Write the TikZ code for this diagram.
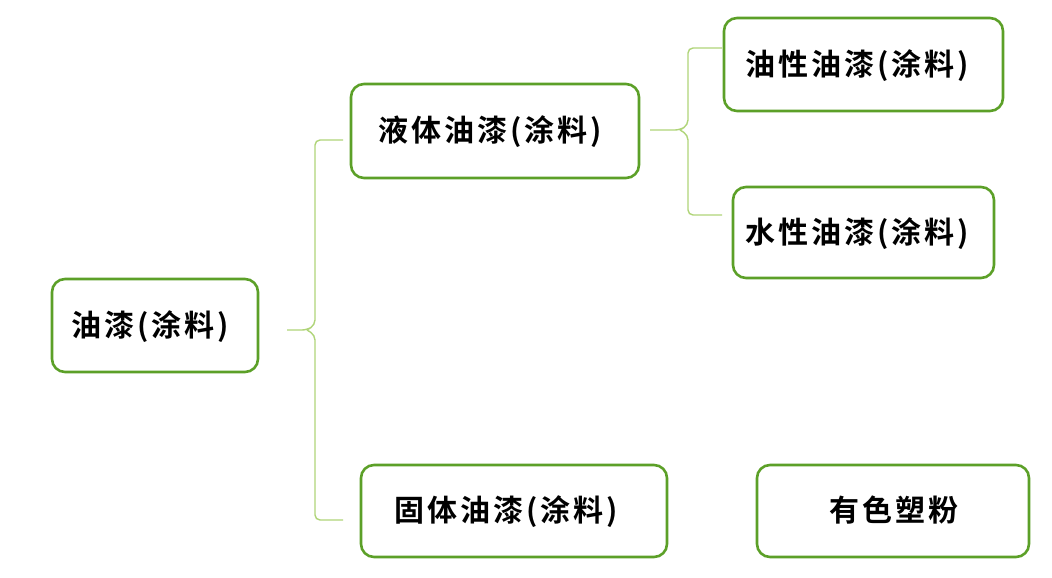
\documentclass[tikz,border=0pt]{standalone}
\usepackage{fontspec}
\newfontfamily\cjk{Noto Sans CJK SC}[BoldFont={* Bold},LetterSpace=10]
\begin{document}
\begin{tikzpicture}[x=1pt,y=-1pt,
  box/.style={draw=boxgreen,line width=2.6pt,rounded corners=13pt,fill=white},
  lbl/.style={font=\cjk\bfseries\fontsize{30}{34}\selectfont,inner sep=0pt},
  brace/.style={draw=linegreen,line width=1.4pt,rounded corners=5pt}]
\definecolor{boxgreen}{RGB}{92,160,40}
\definecolor{linegreen}{RGB}{175,212,120}
\useasboundingbox (0,0) rectangle (1052,578);
\draw[box] (52,279) rectangle (258,372);
\draw[box] (351,84) rectangle (639,178);
\draw[box] (724,18) rectangle (1003,111);
\draw[box] (733,187) rectangle (994,278);
\draw[box] (361,465) rectangle (667,557);
\draw[box] (757,465) rectangle (1029,557);
\node[lbl] (a) at (150,327) {油漆(涂料)};
\node[lbl] (b) at (490,132) {液体油漆(涂料)};
\node[lbl] (c) at (857,66) {油性油漆(涂料)};
\node[lbl] (d) at (857,234) {水性油漆(涂料)};
\node[lbl] (e) at (506,512) {固体油漆(涂料)};
\node[lbl] (f) at (894,510) {有色塑粉};
\coordinate (a1) at (287,330);
\coordinate (b1) at (343,140);
\coordinate (e1) at (343,520);
\coordinate (b2) at (650,130);
\coordinate (c1) at (722,48);
\coordinate (d1) at (722,215);
\draw[brace] (a1) -- (307,330) -- (315,325) -- (315,140) -- (b1);
\draw[brace] (307,330) -- (315,335) -- (315,520) -- (e1);
\draw[brace] (b2) -- (680,130) -- (688,125) -- (688,48) -- (c1);
\draw[brace] (680,130) -- (688,135) -- (688,215) -- (d1);
\end{tikzpicture}
\end{document}
